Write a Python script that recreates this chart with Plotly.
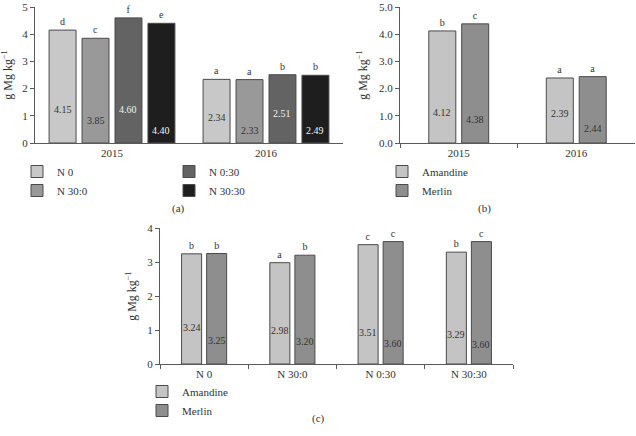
import plotly.graph_objects as go

# ---------------- data ----------------
# Panel (a): Mg content by N treatment and year
years = ["2015", "2016"]
a_treatments = ["N 0", "N 30:0", "N 0:30", "N 30:30"]
a_n0 = [4.15, 2.34]
a_n30_0 = [3.85, 2.33]
a_n0_30 = [4.60, 2.51]
a_n30_30 = [4.40, 2.49]
a_letters_n0 = ["d", "a"]
a_letters_n30_0 = ["c", "a"]
a_letters_n0_30 = ["f", "b"]
a_letters_n30_30 = ["e", "b"]

# Panel (b): Mg content by variety and year
varieties = ["Amandine", "Merlin"]
b_amandine = [4.12, 2.39]
b_merlin = [4.38, 2.44]
b_letters_amandine = ["b", "a"]
b_letters_merlin = ["c", "a"]

# Panel (c): Mg content by N treatment and variety
c_categories = ["N 0", "N 30:0", "N 0:30", "N 30:30"]
c_amandine = [3.24, 2.98, 3.51, 3.29]
c_merlin = [3.25, 3.20, 3.60, 3.60]
c_letters_amandine = ["b", "a", "c", "b"]
c_letters_merlin = ["b", "b", "c", "c"]

# heights (in axis units) at which the value labels sit inside the bars
a_label_heights = [[1.22, 0.94], [0.83, 0.47], [1.22, 1.08], [0.47, 0.47]]
b_label_heights = [[1.12, 1.08], [0.86, 0.54]]
c_label_heights = [[1.06, 1.00, 0.94, 0.88], [0.68, 0.65, 0.59, 0.56]]

# ---------------- style ----------------
FONT = "Liberation Serif, Times New Roman, serif"
TXT = "#333333"
AX = "#5a5a5a"
EDGE = "#4a4a4a"
a_colors = ["#c8c8c8", "#999999", "#636363", "#1e1e1e"]
a_label_colors = ["#333333", "#333333", "#f2f2f2", "#f2f2f2"]
v_colors = ["#c4c4c4", "#8e8e8e"]
W, H = 636, 436


def px_x(p):
    return p / W


def px_y(p):
    return 1 - p / H


fig = go.Figure()
annotations = []


def add_group(series, letters, names, colors, label_cols, heights, cats,
              xa, ya, legends, width, pitch, fmt):
    n = len(series)
    for i in range(n):
        center = (i - (n - 1) / 2) * pitch
        fig.add_trace(go.Bar(
            x=cats, y=series[i], name=names[i],
            marker=dict(color=colors[i], line=dict(color=EDGE, width=1)),
            width=width, offset=center - width / 2,
            text=letters[i], textposition="outside", constraintext="none",
            textfont=dict(family=FONT, size=10, color=TXT),
            cliponaxis=False,
            xaxis=xa, yaxis=ya, legend=legends[i],
            hoverinfo="skip",
        ))
        for j, v in enumerate(series[i]):
            annotations.append(dict(
                x=j + center, y=heights[i][j], xref=xa, yref=ya,
                text=fmt.format(v), showarrow=False,
                font=dict(family=FONT, size=10, color=label_cols[i]),
            ))


add_group([a_n0, a_n30_0, a_n0_30, a_n30_30],
          [a_letters_n0, a_letters_n30_0, a_letters_n0_30, a_letters_n30_30],
          a_treatments, a_colors, a_label_colors, a_label_heights, years,
          "x", "y", ["legend", "legend", "legend4", "legend4"],
          0.175, 0.214, "{:.2f}")
add_group([b_amandine, b_merlin], [b_letters_amandine, b_letters_merlin],
          varieties, v_colors, [TXT, TXT], b_label_heights, years,
          "x2", "y2", ["legend2", "legend2"], 0.23, 0.28, "{:.2f}")
add_group([c_amandine, c_merlin], [c_letters_amandine, c_letters_merlin],
          varieties, v_colors, [TXT, TXT], c_label_heights, c_categories,
          "x3", "y3", ["legend3", "legend3"], 0.227, 0.284, "{:.2f}")

for txt, x, y in [("(a)", 170, 208), ("(b)", 493, 208), ("(c)", 318, 427)]:
    annotations.append(dict(x=px_x(x), y=px_y(y), xref="paper", yref="paper",
                            text=txt, showarrow=False,
                            font=dict(family=FONT, size=11, color=TXT)))

ytitle = "g Mg kg<sup>−1</sup>"
tickfont = dict(family=FONT, size=11, color=TXT)


def yaxis(domain, rng, fmt, anchor):
    return dict(domain=domain, range=rng, dtick=1, tickformat=fmt,
                showline=True, linecolor=AX, linewidth=1, ticks="outside",
                ticklen=4, tickcolor=AX, showgrid=False, zeroline=False,
                tickfont=tickfont, anchor=anchor, automargin=False,
                ticklabeloverflow="allow",
                title=dict(text=ytitle, font=dict(family=FONT, size=12, color=TXT),
                           standoff=8))


def xaxis(domain, anchor, n, ticks):
    d = dict(domain=domain, range=[-0.5, n - 0.5], type="category",
             showline=True, linecolor=AX, linewidth=1, showgrid=False,
             zeroline=False, tickfont=tickfont, anchor=anchor, automargin=False)
    if ticks:
        d.update(ticks="outside", tickson="boundaries", ticklen=4, tickcolor=AX)
    else:
        d.update(ticks="")
    return d


top_dom = [px_y(143), px_y(7)]


def legend_at(x, y):
    return dict(orientation="v", x=px_x(x), y=px_y(y),
                font=dict(family=FONT, size=11, color=TXT),
                bgcolor="rgba(0,0,0,0)", xanchor="left", yanchor="top",
                traceorder="normal", itemclick=False, itemdoubleclick=False,
                tracegroupgap=0)


fig.update_layout(
    width=W, height=H,
    margin=dict(l=0, r=0, t=0, b=0, autoexpand=False),
    paper_bgcolor="white", plot_bgcolor="white",
    barmode="overlay",
    showlegend=True,
    font=dict(family=FONT, color=TXT),
    xaxis=xaxis([px_x(35), px_x(343)], "y", 2, False),
    yaxis=yaxis(top_dom, [0, 5], "d", "x"),
    xaxis2=xaxis([px_x(400), px_x(635)], "y2", 2, True),
    yaxis2=yaxis(top_dom, [0, 5], ".1f", "x2"),
    xaxis3=xaxis([px_x(160), px_x(513)], "y3", 4, True),
    yaxis3=yaxis([px_y(364), px_y(228)], [0, 4], "d", "x3"),
    legend=legend_at(17, 157),
    legend4=legend_at(169, 157),
    legend2=legend_at(382, 157),
    legend3=legend_at(142, 377),
    annotations=annotations,
)

fig.write_html("out.html", config={"displayModeBar": False},
               post_script="document.body.style.margin='0px';")
